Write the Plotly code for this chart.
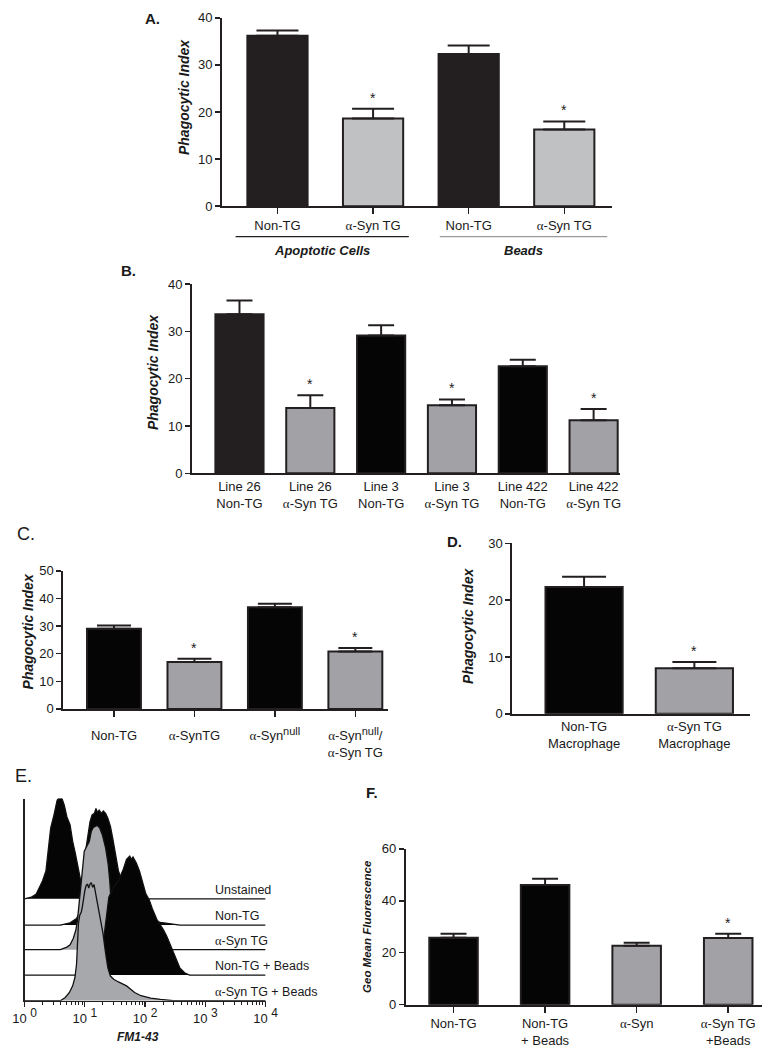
import plotly.graph_objects as go

W, H = 778, 1056

AL = "<span style='font-family:Liberation Serif'>α</span>"   # serif alpha glyph as in the figure
NUL = "<sup><span style='font-size:11px'>null</span></sup>"

# ---------------- data ----------------
a_labels = ["Non-TG", f"{AL}-Syn TG", "Non-TG", f"{AL}-Syn TG"]
a_groups = ["Apoptotic Cells", "Beads"]
a_means = [36.2, 18.6, 32.3, 16.3]
a_sem = [1.1, 2.1, 1.8, 1.7]
a_sig = [False, True, False, True]

b_labels = ["Line 26<br>Non-TG", f"Line 26<br>{AL}-Syn TG", "Line 3<br>Non-TG",
            f"Line 3<br>{AL}-Syn TG", "Line 422<br>Non-TG", f"Line 422<br>{AL}-Syn TG"]
b_means = [33.6, 13.8, 29.1, 14.4, 22.6, 11.2]
b_sem = [2.9, 2.7, 2.2, 1.2, 1.4, 2.4]
b_sig = [False, True, False, True, False, True]

c_labels = ["Non-TG", f"{AL}-SynTG", f"{AL}-Syn{NUL}", f"{AL}-Syn{NUL}/<br>{AL}-Syn TG"]
c_means = [29.0, 17.0, 36.8, 20.8]
c_sem = [1.2, 1.2, 1.3, 1.3]
c_sig = [False, True, False, True]

d_labels = ["Non-TG<br>Macrophage", f"{AL}-Syn TG<br>Macrophage"]
d_means = [22.3, 8.0]
d_sem = [1.8, 1.1]
d_sig = [False, True]

f_labels = ["Non-TG", "Non-TG<br>+ Beads", f"{AL}-Syn", f"{AL}-Syn TG<br>+Beads"]
f_means = [25.8, 46.1, 22.7, 25.7]
f_sem = [1.5, 2.4, 1.1, 1.6]
f_sig = [False, False, False, True]

# E: flow histograms (FM1-43 fluorescence, relative counts)
e_names = ["Unstained", "Non-TG", f"{AL}-Syn TG", "Non-TG + Beads", f"{AL}-Syn TG + Beads"]
e_unst_fl = [1.0, 1.29, 1.56, 1.76, 1.99, 2.26, 2.46, 2.71, 3.07, 3.47, 3.83, 4.18, 4.56,
             5.03, 5.69, 6.28, 6.93, 7.65, 8.44, 9.31, 10.3]
e_unst_ct = [0, 1.7, 5, 11.7, 18.3, 28.3, 48.3, 71.7, 85, 100, 103.3, 101.7, 95,
             83.3, 75, 58.3, 46.7, 33.3, 18.3, 6.7, 0]
e_ntg_fl = [3.93, 5.69, 7.28, 8.24, 9.31, 10.3, 11.2, 12.2, 13.2, 14.4, 15.3, 16.2, 17.3,
            18.8, 20.3, 22.1, 24.1, 26.6, 29.0, 32.0, 36.1, 43.5, 52.4, 67, 85.7, 110,
            140, 180, 260, 377]
e_ntg_ct = [0, 2.3, 6.7, 13.3, 41.7, 75, 91.7, 105, 111.7, 113.3, 118.3, 114.3, 116.7,
            113.3, 115.7, 113.3, 108.3, 100, 88.3, 71.7, 55, 41.7, 31.7, 21.7, 13.3, 8.3,
            4.3, 2.7, 1.3, 0]
e_syn_fl = [3.93, 5.03, 5.69, 6.44, 7.10, 7.55, 8.03, 8.44, 9.08, 9.79, 10.8, 11.9, 12.8,
            13.8, 14.9, 16.2, 17.7, 19.5, 22.1, 24.4, 25.9, 26.9, 28.3, 32.0, 40.9, 59.2]
e_syn_ct = [0, 2.7, 5, 11.7, 20, 30, 46.7, 66.7, 86.7, 100, 105, 110, 120,
            124, 125, 126, 123.3, 116.7, 103.3, 86.7, 70, 53.3, 33.3, 10, 1.7, 0]
e_ntgb_fl = [7.28, 11.9, 17.3, 20.8, 22.6, 25.0, 30.1, 36.1, 43.5, 49.2, 55.7, 59.2, 63,
             71.3, 80.6, 91.2, 103, 117, 132, 159, 180, 203, 230, 260, 294, 333, 377,
             453, 545]
e_ntgb_ct = [0, 5.7, 19, 39, 59, 79, 89, 95.7, 107.3, 117.3, 120.7, 117.3, 119.7,
             114, 105.7, 92.3, 82.3, 76.3, 67.3, 55.7, 50.7, 45.7, 39, 30.7, 22.3, 14,
             7.3, 2.3, 0]
e_synb_fl = [3.93, 4.73, 5.55, 6.28, 6.84, 7.28, 7.55, 7.84, 8.24, 8.75, 9.08, 9.55, 10.0,
             10.5, 11.1, 11.6, 12.2, 12.8, 13.5, 14.2, 14.9, 15.6, 16.8, 18.4, 20.0, 22.1,
             24.1, 26.6, 30.1, 36.1, 43.5, 49.2, 55.7, 67, 85.7, 124, 180, 294]
e_synb_ct = [0, 3.3, 8.3, 15, 23.3, 36.7, 61.7, 78.3, 86.7, 90, 95, 105, 111.7,
             116.7, 118.3, 114.3, 118.3, 119.7, 115, 117.7, 111, 105, 95, 81.7, 68.3, 48.3,
             33.3, 25, 21.7, 19, 16.7, 15, 12.3, 8.3, 5, 2.7, 1.3, 0]
e_fl_ticks = [1, 10, 100, 1000, 10000]
e_tick_exp = ["0", "1", "2", "3", "4"]

# ---------------- styles ----------------
DARK = "#231f20"
BLACK = "#050505"
LGRAY = "#c0c1c3"
MGRAY = "#a2a2a6"
FONT = "Liberation Sans, Arial, sans-serif"
TXT = "#1a1a1a"


def X(px):
    return px / W


def Y(py):
    return 1 - py / H


fig = go.Figure()
annotations = []
shapes = []


def bar_panel(idx, labels, means, sem, sig, colors, width, cap, xdom, ydom, xrange, yrange,
              dtick, xticks, standoff=None):
    n = len(means)
    xa = "x" if idx == 1 else f"x{idx}"
    ya = "y" if idx == 1 else f"y{idx}"
    fig.add_trace(go.Bar(
        x=list(range(n)), y=means, width=width,
        marker=dict(color=colors, line=dict(color=DARK, width=2)),
        error_y=dict(type="data", array=sem, arrayminus=[0] * n, symmetric=False,
                     color=DARK, thickness=2, width=cap),
        xaxis=xa, yaxis=ya, showlegend=False, hoverinfo="skip"))
    xkey = "xaxis" if idx == 1 else f"xaxis{idx}"
    ykey = "yaxis" if idx == 1 else f"yaxis{idx}"
    xd = dict(domain=[X(xdom[0]), X(xdom[1])], range=xrange, anchor=ya,
              tickmode="array", tickvals=list(range(n)), ticktext=labels,
              showline=True, linecolor=DARK, linewidth=2, showgrid=False, zeroline=False,
              ticks="outside" if xticks else "", ticklen=6, tickwidth=1.5, tickcolor=DARK,
              tickfont=dict(family=FONT, size=13, color=TXT), fixedrange=True)
    if standoff is not None:
        xd["ticklabelstandoff"] = standoff
    yd = dict(domain=[Y(ydom[1]), Y(ydom[0])], range=yrange, anchor=xa, dtick=dtick,
              showline=True, linecolor=DARK, linewidth=2, showgrid=False, zeroline=False,
              ticks="outside", ticklen=5, tickwidth=1.5, tickcolor=DARK,
              tickfont=dict(family=FONT, size=13, color=TXT), fixedrange=True)
    fig.update_layout(**{xkey: xd, ykey: yd})
    for i in range(n):
        if sig[i]:
            annotations.append(dict(x=i, y=means[i] + sem[i], xref=xa, yref=ya, text="*",
                                    showarrow=False, yanchor="bottom", yshift=1,
                                    font=dict(family=FONT, size=14, color=TXT)))


# Panel A
bar_panel(1, a_labels, a_means, a_sem, a_sig, [DARK, LGRAY, DARK, LGRAY], 0.63, 21,
          (217, 620), (11, 202), [-0.58, 3.5], [0, 40], 10, True)
# Panel B
bar_panel(2, b_labels, b_means, b_sem, b_sig, [DARK, MGRAY, BLACK, MGRAY, BLACK, MGRAY], 0.68, 13,
          (186, 628), (281, 473), [-0.67, 5.37], [0, 40], 10, False)
# Panel C
bar_panel(3, c_labels, c_means, c_sem, c_sig, [BLACK, MGRAY, BLACK, MGRAY], 0.67, 17,
          (53, 388), (572, 712), [-0.63, 3.4], [0, 50], 10, True, standoff=8)
# Panel D
bar_panel(4, d_labels, d_means, d_sem, d_sig, [BLACK, MGRAY], 0.7, 22,
          (517, 762), (544, 717), [-0.65, 1.5], [0, 30], 10, False)
# Panel F
bar_panel(6, f_labels, f_means, f_sem, f_sig, [BLACK, BLACK, MGRAY, MGRAY], 0.53, 13,
          (407, 775), (854, 1012), [-0.52, 3.37], [0, 60], 20, True)

# Panel E : stacked (offset) histograms
e_series = [(e_unst_fl, e_unst_ct), (e_ntg_fl, e_ntg_ct), (e_syn_fl, e_syn_ct),
            (e_ntgb_fl, e_ntgb_ct), (e_synb_fl, e_synb_ct)]
e_offsets = [103.3, 76.7, 51.7, 26.0, 0.0]
e_fill = [BLACK, BLACK, "#a7a8ab", BLACK, "#a7a8ab"]
for (fl, ct), off, col in zip(e_series, e_offsets, e_fill):
    xs = [e_fl_ticks[0]] + list(fl) + [e_fl_ticks[-1]]
    ys = [off] + [off + c for c in ct] + [off]
    fig.add_trace(go.Scatter(x=xs, y=ys, mode="lines", fill="toself", fillcolor=col,
                             line=dict(color="#111111", width=1.3),
                             xaxis="x5", yaxis="y5", showlegend=False, hoverinfo="skip"))
for name, off in zip(e_names, e_offsets):
    annotations.append(dict(x=3.12, y=off, xref="x5", yref="y5", text=name, showarrow=False,
                            xanchor="left", yanchor="bottom", yshift=0,
                            font=dict(family=FONT, size=12.5, color=TXT)))

minor_vals = [m * 10 ** d for d in range(4) for m in range(2, 10)]
fig.update_layout(
    xaxis5=dict(domain=[X(13), X(262)], type="log", range=[0, 4], anchor="y5",
                tickmode="array", tickvals=e_fl_ticks,
                ticktext=[f"10<sup><span style='font-size:12px'> {e}</span></sup>"
                          for e in e_tick_exp],
                showline=True, linecolor=DARK, linewidth=1.5, showgrid=False, zeroline=False,
                ticks="outside", ticklen=5, tickwidth=1.2, tickcolor=DARK,
                minor=dict(ticks="outside", ticklen=3, tickwidth=1, tickcolor=DARK,
                           tickmode="array", tickvals=minor_vals, showgrid=False),
                tickfont=dict(family=FONT, size=13, color=TXT), fixedrange=True),
    yaxis5=dict(domain=[Y(1008), Y(803)], range=[0, 205], anchor="x5",
                showline=True, linecolor=DARK, linewidth=1.5, showgrid=False, zeroline=False,
                showticklabels=False, ticks="", fixedrange=True),
)

# axis titles
def vtitle(text, x, y, size=14):
    annotations.append(dict(x=X(x), y=Y(y), xref="paper", yref="paper", text=text,
                            textangle=-90, showarrow=False, xanchor="center", yanchor="middle",
                            font=dict(family=FONT, size=size, color=TXT)))

vtitle("<b><i>Phagocytic Index</i></b>", 177, 91)
vtitle("<b><i>Phagocytic Index</i></b>", 145, 370)
vtitle("<b><i>Phagocytic Index</i></b>", 17, 633)
vtitle("<b><i>Phagocytic Index</i></b>", 471, 628)
vtitle("<b><i>Geo Mean Fluorescence</i></b>", 367, 933, size=11.5)

annotations.append(dict(x=X(130), y=Y(1045), xref="paper", yref="paper",
                        text="<b><i>FM1-43</i></b>", showarrow=False,
                        xanchor="center", yanchor="middle",
                        font=dict(family=FONT, size=12, color=TXT)))

# panel letters
for txt, x, y, bold, size in [("A.", 145, 12, True, 15), ("B.", 120, 267, True, 15),
                              ("C.", 14, 535, False, 18), ("D.", 457, 542, True, 15),
                              ("E.", 12, 780, False, 18), ("F.", 372, 797, True, 15)]:
    annotations.append(dict(x=X(x), y=Y(y), xref="paper", yref="paper",
                            text=f"<b>{txt}</b>" if bold else txt, showarrow=False,
                            xanchor="center", yanchor="middle",
                            font=dict(family=FONT, size=size, color=TXT)))

# Panel A group labels with underlines
for g, (x0, x1, col) in zip(a_groups, [(231, 410, DARK), (442, 615, "#9a9a9a")]):
    shapes.append(dict(type="line", xref="paper", yref="paper", x0=X(x0), x1=X(x1),
                       y0=Y(233), y1=Y(233), line=dict(color=col, width=1.3)))
    annotations.append(dict(x=X((x0 + x1) / 2), y=Y(247), xref="paper", yref="paper",
                            text=f"<b><i>{g}</i></b>", showarrow=False,
                            xanchor="center", yanchor="middle",
                            font=dict(family=FONT, size=13, color=TXT)))

fig.update_layout(width=W, height=H, margin=dict(l=0, r=0, t=0, b=0), autosize=False,
                  paper_bgcolor="white", plot_bgcolor="white", bargap=0,
                  annotations=annotations, shapes=shapes, showlegend=False)

fig.write_html(
    "out.html",
    config={"displayModeBar": False, "staticPlot": True},
    post_script=(
        "document.documentElement.style.margin='0';"
        "document.body.style.margin='0';document.body.style.padding='0';"
        "document.documentElement.style.overflow='hidden';"
        "var d=document.getElementById('{plot_id}');"
        "d.style.position='fixed';d.style.left='0px';d.style.top='0px';"
    ),
)
